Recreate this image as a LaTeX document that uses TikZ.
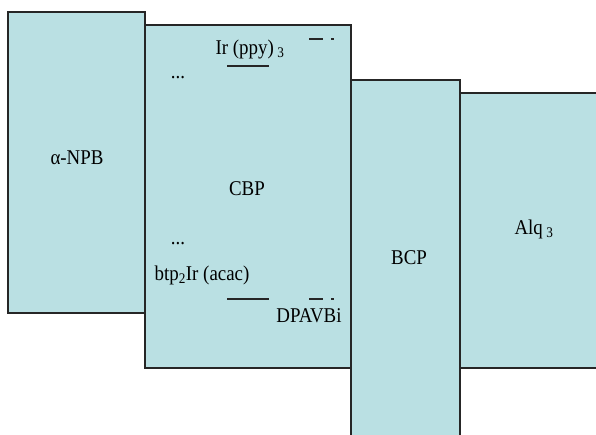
\documentclass[tikz,border=0pt]{standalone}
\usepackage{fontspec}
\setmainfont{Liberation Serif}[FakeStretch=0.9]
\definecolor{layerfill}{HTML}{BAE0E3}
\definecolor{layerline}{HTML}{262626}
\begin{document}
\begin{tikzpicture}[x=1pt,y=-1pt,
		layer/.style={fill=layerfill,draw=layerline,line width=1.2pt},
		lbl/.style={inner sep=0pt,font=\fontsize{21}{24}\selectfont},
		level/.style={line width=1.3pt,layerline}]
		\useasboundingbox (0,0) rectangle (596,434);
		
		\draw[layer] (8,12) rectangle (145,313);
		\draw[layer] (145,25) rectangle (351,368);
		\draw[layer] (460,93) rectangle (600,368);
		\draw[layer] (351,80) rectangle (460,440);
		
		\node[lbl] (npb) at (77,158) {α-NPB};
		\node[lbl] (cbp) at (247,189) {CBP};
		\node[lbl] (bcp) at (409,258) {BCP};
		\node[lbl] (alq) at (534,229) {Alq\,\textsubscript{3}};
		\node[lbl] (irppy) at (250,49) {Ir (ppy)\,\textsubscript{3}};
		\node[lbl] (btp) at (202,275) {btp\textsubscript{2}Ir (acac)};
		\node[lbl] (dpavbi) at (309,316) {DPAVBi};
		\node[lbl] (dotsa) at (178,78) {...};
		\node[lbl] (dotsb) at (178,244) {...};
		
		\draw[level] (227,66) -- (269,66);
		\draw[level] (309,39) -- (323,39);
		\draw[level] (331,39) -- (334,39);
		\draw[level] (227,299) -- (269,299);
		\draw[level] (309,299) -- (323,299);
		\draw[level] (331,299) -- (334,299);
	\end{tikzpicture}
\end{document}
